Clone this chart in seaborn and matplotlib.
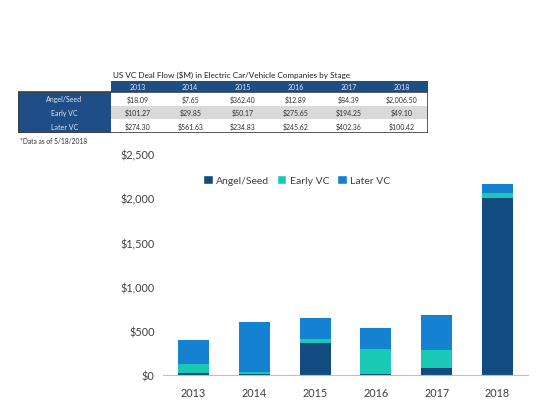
import matplotlib
matplotlib.use("Agg")
import matplotlib.pyplot as plt
import matplotlib.ticker as mticker
from matplotlib.patches import Rectangle, Patch
import seaborn as sns
import pandas as pd

# ---- data ----
years = ["2013", "2014", "2015", "2016", "2017", "2018"]
stages = ["Angel/Seed", "Early VC", "Later VC"]
angel_seed = [18.09, 7.65, 362.40, 12.89, 84.39, 2006.50]
early_vc = [101.27, 29.85, 50.17, 275.65, 194.25, 49.10]
later_vc = [274.30, 561.63, 234.83, 245.62, 402.36, 100.42]
table_title = "US VC Deal Flow ($M) in Electric Car/Vehicle Companies by Stage"
note = "*Data as of 5/18/2018"

colors = {"Angel/Seed": "#124B80", "Early VC": "#19C9B5", "Later VC": "#1581D1"}
header_blue = "#1F4E87"

sns.set_style("white")
plt.rcParams['font.family'] = ['Lato', 'DejaVu Sans']

df = pd.DataFrame({"Year": years, "Angel/Seed": angel_seed,
                   "Early VC": early_vc, "Later VC": later_vc})
df["cum_angel"] = df["Angel/Seed"]
df["cum_early"] = df["cum_angel"] + df["Early VC"]
df["cum_later"] = df["cum_early"] + df["Later VC"]

W, H = 550, 406
fig = plt.figure(figsize=(W / 100, H / 100), dpi=100)

# ---- stacked bar chart ----
ax = fig.add_axes([163 / W, 1 - 376 / H, 365 / W, 221 / H])
for col, stage in [("cum_later", "Later VC"), ("cum_early", "Early VC"), ("cum_angel", "Angel/Seed")]:
    sns.barplot(data=df, x="Year", y=col, color=colors[stage], width=0.51,
                saturation=1, linewidth=0, ax=ax)
ax.set_ylim(0, 2500)
ax.set_yticks([0, 500, 1000, 1500, 2000, 2500])
ax.yaxis.set_major_formatter(mticker.FuncFormatter(lambda v, p: f"${v:,.0f}"))
ax.set_xlabel("")
ax.set_ylabel("")
for s in ["top", "right", "left"]:
    ax.spines[s].set_visible(False)
ax.spines["bottom"].set_color("#BFBFBF")
ax.tick_params(axis="both", length=0, labelsize=7.8, colors="#404040")
ax.tick_params(axis="y", pad=6)
ax.tick_params(axis="x", pad=9)
handles = [Patch(facecolor=colors[s], label=s) for s in stages]
ax.legend(handles=handles, loc="center", bbox_to_anchor=(0.366, 0.882), ncol=3,
          frameon=False, fontsize=7.5, handlelength=0.9, handleheight=0.9,
          handletextpad=0.3, columnspacing=0.8, labelcolor="#404040")

# ---- table ----
tx0, tx1 = 18, 428
ty0, ty1 = 82, 134
tab = fig.add_axes([tx0 / W, 1 - ty1 / H, (tx1 - tx0) / W, (ty1 - ty0) / H])
tab.set_xlim(tx0, tx1)
tab.set_ylim(ty1, ty0)
tab.axis("off")
label_w = 93
col_w = (tx1 - tx0 - label_w) / len(years)
header_h = 11
row_h = (ty1 - ty0 - header_h) / len(stages)
c0 = tx0 + label_w

tab.add_patch(Rectangle((c0, ty0), tx1 - c0, header_h, color=header_blue, lw=0))
tab.add_patch(Rectangle((tx0, ty0 + header_h), label_w, ty1 - ty0 - header_h,
                        color=header_blue, lw=0))
tab.add_patch(Rectangle((c0, ty0 + header_h + row_h), tx1 - c0, row_h,
                        color="#D9D9D9", lw=0))
tab.add_patch(Rectangle((tx0, ty0 + header_h), tx1 - tx0, ty1 - ty0 - header_h,
                        fill=False, ec="#404040", lw=1.2))
for i, y in enumerate(years):
    tab.text(c0 + col_w * (i + 0.5), ty0 + header_h / 2, y, ha="center", va="center",
             fontsize=5, color="#DDE8F5")
rows = [angel_seed, early_vc, later_vc]
for r, (stage, vals) in enumerate(zip(stages, rows)):
    yc = ty0 + header_h + row_h * (r + 0.5)
    tab.text(tx0 + label_w / 2, yc, stage, ha="center", va="center",
             fontsize=5, color="#DDE8F5")
    for i, v in enumerate(vals):
        tab.text(c0 + col_w * (i + 0.5), yc, f"${v:,.2f}", ha="center", va="center",
                 fontsize=5, color="#303030")

fig.text(113 / W, 1 - 75 / H, table_title, ha="left", va="center", fontsize=5.9,
         color="#202020")
fig.text(20 / W, 1 - 142 / H, note, ha="left", va="center", fontsize=4.8,
         color="#303030")

fig.savefig("out.png", dpi=100)
